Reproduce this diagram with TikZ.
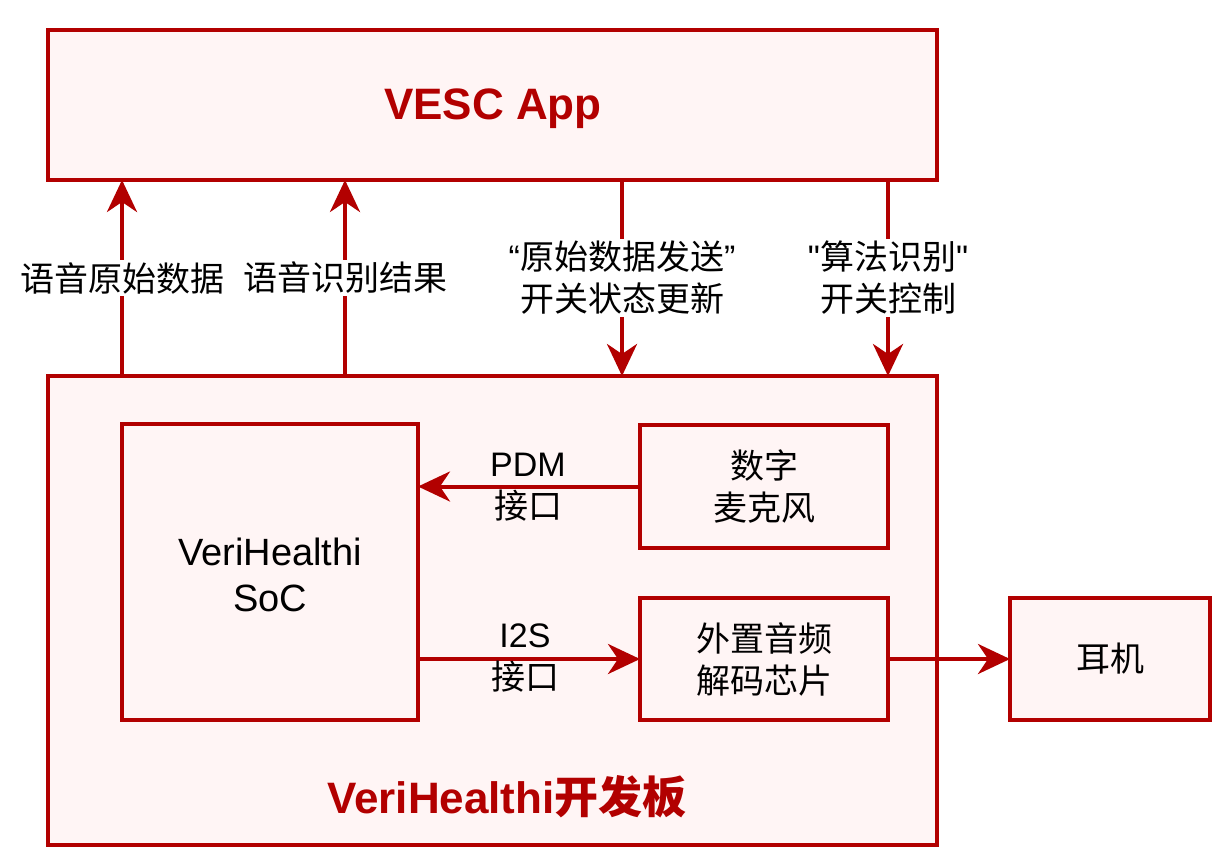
\documentclass[tikz,border=0pt]{standalone}
\usepackage{fontspec}
\setmainfont{Liberation Sans}[Ligatures=TeXOff]
\newfontfamily\cjk{Noto Sans CJK SC}
\usetikzlibrary{arrows.meta}
\newcommand\zh[1]{{\cjk #1}}
\definecolor{dred}{HTML}{B20000}
\definecolor{pinkfill}{HTML}{FFF5F5}
\begin{document}
\begin{tikzpicture}[x=1pt,y=-1pt,
  box/.style={draw=dred,line width=4pt,fill=pinkfill,rectangle,inner sep=0pt,outer sep=0pt},
  txt/.style={font=\fontsize{34}{42}\selectfont,align=center,text=black,inner sep=1pt},
  title/.style={font=\fontsize{44}{50}\selectfont\bfseries,text=dred},
  arr/.style={draw=dred,line width=4pt,-{Stealth[length=32pt,width=30pt,inset=10pt]}},
  wlab/.style={txt,fill=white,inner sep=2pt}]
\useasboundingbox (0,0) rectangle (1228,867);
\fill[white] (0,0) rectangle (1228,867);
% boxes
\node[box,minimum width=889pt,minimum height=150pt] (vesc) at (492.5,105) {};
\node[title] (vesctitle) at (493,109) {VESC App};
\node[box,minimum width=889pt,minimum height=469pt] (board) at (492.5,610.5) {};
\node[title] (boardtitle) at (507,797) {VeriHealthi\zh{开发板}};
\node[box,minimum width=296pt,minimum height=296pt] (soc) at (270,572) {};
\node[txt,font=\fontsize{38}{46}\selectfont] (soctext) at (270,575) {VeriHealthi\\SoC};
\node[box,minimum width=248pt,minimum height=123pt,txt] (mic) at (764,486.5) {\zh{数字}\\\zh{麦克风}};
\node[box,minimum width=248pt,minimum height=122pt,txt] (codec) at (764,659) {\zh{外置音频}\\\zh{解码芯片}};
\node[box,minimum width=200pt,minimum height=122pt,txt] (ear) at (1110,659) {\zh{耳机}};
% vertical connections
\draw[arr] ([xshift=74pt]board.north west) -- ([xshift=74pt]vesc.south west)
  node[wlab,pos=0.5] (l1) {\zh{语音原始数据}};
\draw[arr] ([xshift=297pt]board.north west) -- ([xshift=297pt]vesc.south west)
  node[wlab,pos=0.5] (l2) {\zh{语音识别结果}};
\draw[arr] ([xshift=574pt]vesc.south west) -- ([xshift=574pt]board.north west)
  node[wlab,pos=0.5] (l3) {“\zh{原始数据发送}”\\\zh{开关状态更新}};
\draw[arr] ([xshift=840pt]vesc.south west) -- ([xshift=840pt]board.north west)
  node[wlab,pos=0.5] (l4) {"\zh{算法识别}"\\\zh{开关控制}};
% horizontal connections
\draw[arr] (mic.west) -- (mic.west -| soc.east);
\node[txt] (pdm) at (528,487) {PDM\\\zh{接口}};
\draw[arr] (codec.west -| soc.east) -- (codec.west);
\node[txt] (i2s) at (525,658) {I2S\\\zh{接口}};
\draw[arr] (codec.east) -- (ear.west);
\end{tikzpicture}
\end{document}
